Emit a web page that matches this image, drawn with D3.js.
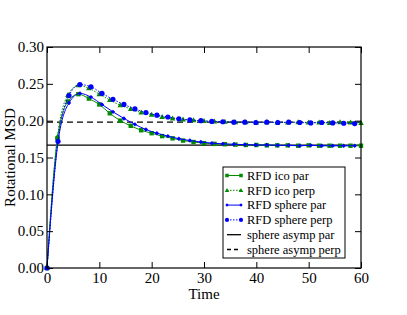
<!DOCTYPE html>
<html><head><meta charset="utf-8">
<script src="https://cdn.jsdelivr.net/npm/d3@7"></script>
<style>body{margin:0;background:#fff}svg{display:block}svg text{font-family:'Liberation Serif','Times New Roman','DejaVu Serif',serif !important}</style>
</head><body><svg id="c" width="407" height="315"></svg>
<script>
const icoTime = [0,2,4,6,8,10,12,14,16,18,20,22,24,26,28,30,32,34,36,38,40,42,44,46,48,50,52,54,56,58,60];
const icoPar = [0,0.176,0.226,0.236,0.230,0.222,0.210,0.200,0.193,0.187,0.183,0.179,0.176,0.173,0.171,0.1695,0.1685,0.168,0.1675,0.167,0.167,0.1665,0.1665,0.1665,0.166,0.1665,0.166,0.166,0.166,0.166,0.166];
const icoPerp = [0,0.178,0.235,0.248,0.244,0.236,0.228,0.221,0.216,0.211,0.208,0.205,0.203,0.2015,0.2005,0.1995,0.199,0.1985,0.198,0.198,0.1975,0.198,0.1975,0.1975,0.198,0.1975,0.1975,0.197,0.198,0.1975,0.197];
const sphTime = [0,2.1,4.2,6.3,8.4,10.5,12.6,14.7,16.8,18.9,21,23.1,25.2,27.3,29.4,31.5,33.6,35.7,37.8,39.9,42,44.1,46.2,48.3,50.4,52.5,54.6,56.7,58.8];
const sphPar = [0,0.171,0.224,0.237,0.232,0.222,0.212,0.203,0.195,0.188,0.183,0.179,0.1755,0.173,0.171,0.1695,0.1685,0.168,0.1675,0.167,0.167,0.1665,0.1665,0.166,0.1665,0.166,0.166,0.166,0.166];
const sphPerp = [0,0.172,0.234,0.249,0.246,0.237,0.229,0.222,0.216,0.211,0.2075,0.205,0.2025,0.201,0.2,0.199,0.1985,0.198,0.198,0.1975,0.198,0.1975,0.198,0.1975,0.197,0.1975,0.197,0.1965,0.196];
const asympPar = 0.1667, asympPerp = 0.198;
const xTicks = [0,10,20,30,40,50,60];
const yTicks = [0,0.05,0.10,0.15,0.20,0.25,0.30];
const legendLabels = ["RFD ico par","RFD ico perp","RFD sphere par","RFD sphere perp","sphere asymp par","sphere asymp perp"];

const FONT = "'Liberation Serif','Times New Roman','DejaVu Serif',serif";
const GREEN = "#008b00", BLUE = "#0000ff";
const svg = d3.select("#c");
const L=47,R=361,T=47,B=268;
const x = d3.scaleLinear().domain([0,60]).range([L,R]);
const y = d3.scaleLinear().domain([0,0.30]).range([B,T]);

const g = svg.append("g");
g.append("line").attr("x1",x(0)).attr("x2",x(60)).attr("y1",y(asympPar)).attr("y2",y(asympPar)).attr("stroke","#000").attr("stroke-width",1.3);
g.append("line").attr("x1",x(0)).attr("x2",x(60)).attr("y1",y(asympPerp)).attr("y2",y(asympPerp)).attr("stroke","#000").attr("stroke-width",1.3).attr("stroke-dasharray","6,4");

const line = d3.line().curve(d3.curveMonotoneX);
function drawMarker(sel,px,py,color,m,s){
  if(m==="square") sel.append("rect").attr("x",px-2.2*s).attr("y",py-2.2*s).attr("width",4.4*s).attr("height",4.4*s).attr("fill",color);
  else if(m==="tri") sel.append("path").attr("d",`M${px},${py-3*s}L${px+2.8*s},${py+2*s}L${px-2.8*s},${py+2*s}Z`).attr("fill",color);
  else if(m==="diamond") sel.append("path").attr("d",`M${px},${py-2.2*s}L${px+2.2*s},${py}L${px},${py+2.2*s}L${px-2.2*s},${py}Z`).attr("fill",color);
  else sel.append("circle").attr("cx",px).attr("cy",py).attr("r",2.6*s).attr("fill",color);
}
function series(ts, vs, color, dash, marker){
  const pts = ts.map((t,i)=>[x(t),y(vs[i])]);
  g.append("path").attr("d",line(pts)).attr("fill","none").attr("stroke",color).attr("stroke-width",1).attr("stroke-dasharray",dash||null);
  pts.forEach(p=>drawMarker(g,p[0],p[1],color,marker,1));
}
series(icoTime, icoPar, GREEN, null, "square");
series(icoTime, icoPerp, GREEN, "1.5,1.5", "tri");
series(sphTime, sphPar, BLUE, null, "diamond");
series(sphTime, sphPerp, BLUE, "1.5,1.5", "circle");

svg.append("rect").attr("x",L).attr("y",T).attr("width",R-L).attr("height",B-T).attr("fill","none").attr("stroke","#000").attr("stroke-width",1.2);
const ax = svg.append("g").attr("transform",`translate(0,${B})`).call(d3.axisBottom(x).tickValues(xTicks).tickSizeInner(-6).tickSizeOuter(0).tickPadding(7).tickFormat(d3.format("d")));
const axT = svg.append("g").attr("transform",`translate(0,${T})`).call(d3.axisTop(x).tickValues(xTicks).tickSizeInner(-6).tickSizeOuter(0).tickFormat(""));
const ay = svg.append("g").attr("transform",`translate(${L},0)`).call(d3.axisLeft(y).tickValues(yTicks).tickSizeInner(-6).tickSizeOuter(0).tickPadding(3).tickFormat(d3.format(".2f")));
const ayR = svg.append("g").attr("transform",`translate(${R},0)`).call(d3.axisRight(y).tickValues(yTicks).tickSizeInner(-6).tickSizeOuter(0).tickFormat(""));
[ax,axT,ay,ayR].forEach(a=>{a.attr("font-family",FONT).attr("font-size",15);a.select(".domain").remove();a.selectAll("line").attr("stroke","#000").attr("stroke-width",1);a.selectAll("text").attr("fill","#000");});
ax.selectAll("text").attr("dy","0.5em");

svg.append("text").attr("x",(L+R)/2).attr("y",299).attr("text-anchor","middle").attr("font-family",FONT).attr("font-size",15).text("Time");
svg.append("text").attr("transform",`translate(15,${(T+B)/2}) rotate(-90)`).attr("text-anchor","middle").attr("font-family",FONT).attr("font-size",15).text("Rotational MSD");

const lg = svg.append("g");
lg.append("rect").attr("x",223).attr("y",167).attr("width",122).attr("height",91).attr("fill","#fff").attr("stroke","#000").attr("stroke-width",1);
const legSpec = [[GREEN,null,"square"],[GREEN,"1.5,1.5","tri"],[BLUE,null,"diamond"],[BLUE,"1.5,1.5","circle"],["#000",null,null],["#000","4,3",null]];
legendLabels.forEach((lab,i)=>{
  const yy = 175.5 + i*14.8;
  const [c,d,m] = legSpec[i];
  lg.append("line").attr("x1",227).attr("x2",241).attr("y1",yy).attr("y2",yy).attr("stroke",c).attr("stroke-width",m?1:1.3).attr("stroke-dasharray",d);
  if(m){ drawMarker(lg,227,yy,c,m,0.8); drawMarker(lg,241,yy,c,m,0.8); }
  lg.append("text").attr("x",247).attr("y",yy+4.3).attr("font-family",FONT).attr("font-size",12.5).text(lab);
});
</script></body></html>
